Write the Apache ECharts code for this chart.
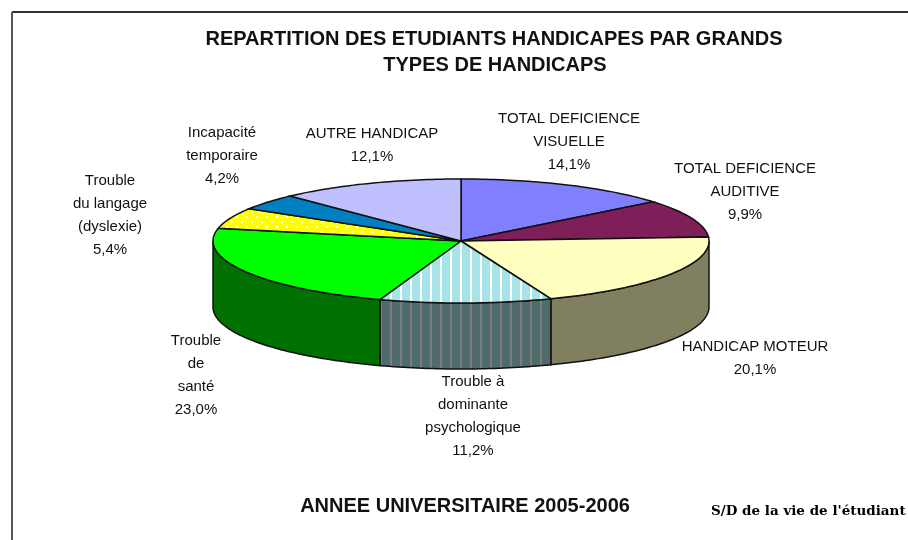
<!DOCTYPE html>
<html>
<head>
<meta charset="utf-8">
<style>html,body{margin:0;padding:0;background:#fff}#main{width:908px;height:540px}</style>
<script src="https://cdn.jsdelivr.net/npm/echarts@6/dist/echarts.min.js"></script>
</head>
<body>
<div id="main"></div>
<script>
var categories = ['TOTAL DEFICIENCE\nVISUELLE', 'TOTAL DEFICIENCE\nAUDITIVE', 'HANDICAP MOTEUR', 'Trouble à\ndominante\npsychologique', 'Trouble\nde\nsanté', 'Trouble\ndu langage\n(dyslexie)', 'Incapacité\ntemporaire', 'AUTRE HANDICAP'];
var values = [14.1, 9.9, 20.1, 11.2, 23.0, 5.4, 4.2, 12.1];
var topColors = ['#8080ff', '#7f1f5a', '#ffffc0', '#a6e4e8', '#00ff00', '#ffff00', '#0080c0', '#c0c0ff'];
var wallColors = ['#404080', '#40102d', '#808060', '#4f6b6b', '#007000', '#808000', '#004060', '#606080'];
// label centres, in page pixels
var labelX = [569, 745, 755, 473, 196, 110, 222, 372];
var labelY = [142, 192, 358, 416, 375, 215, 156, 145];

var cx = 461, cy = 241, rx = 248, ry = 62, depth = 66;
var total = values.reduce(function (a, b) { return a + b; }, 0);

function stripes(bg, fg) {
    var c = document.createElement('canvas');
    c.width = 10; c.height = 10;
    var g = c.getContext('2d');
    g.fillStyle = bg; g.fillRect(0, 0, 10, 10);
    g.fillStyle = fg; g.fillRect(0, 0, 2, 10);
    return {image: c, repeat: 'repeat'};
}
function dots(bg, fg) {
    var c = document.createElement('canvas');
    c.width = 10; c.height = 10;
    var g = c.getContext('2d');
    g.fillStyle = bg; g.fillRect(0, 0, 10, 10);
    g.fillStyle = fg; g.fillRect(1, 1, 2, 2); g.fillRect(6, 6, 2, 2);
    return {image: c, repeat: 'repeat'};
}
var topFill = topColors.slice();
var wallFill = wallColors.slice();
topFill[3] = stripes(topColors[3], '#ffffff');
wallFill[3] = stripes(wallColors[3], '#7d7d7d');
topFill[5] = dots(topColors[5], '#ffffff');

function pt(a, dy) {
    return [cx + rx * Math.sin(a), cy - ry * Math.cos(a) + (dy || 0)];
}
function arcPts(a0, a1, dy) {
    var out = [], n = Math.max(2, Math.ceil((a1 - a0) / 0.02));
    for (var i = 0; i <= n; i++) {
        out.push(pt(a0 + (a1 - a0) * i / n, dy));
    }
    return out;
}

function renderSlice(params, api) {
    var i = params.dataIndex;
    var before = 0;
    for (var k = 0; k < i; k++) before += values[k];
    var a0 = before / total * Math.PI * 2;
    var a1 = (before + api.value(0)) / total * Math.PI * 2;
    var kids = [];

    // front wall: only the part of the rim between 3 and 9 o'clock shows
    var w0 = Math.max(a0, Math.PI / 2), w1 = Math.min(a1, Math.PI * 1.5);
    if (w1 > w0) {
        kids.push({
            type: 'polygon',
            shape: {points: arcPts(w0, w1, 0).concat(arcPts(w0, w1, depth).reverse())},
            style: {fill: wallFill[i], stroke: '#111', lineWidth: 1.5}
        });
    }
    kids.push({
        type: 'polygon',
        shape: {points: [[cx, cy]].concat(arcPts(a0, a1, 0))},
        style: {fill: topFill[i], stroke: '#111', lineWidth: 1.5}
    });
    kids.push({
        type: 'text',
        x: labelX[i],
        y: labelY[i],
        style: {
            text: categories[i] + '\n' + api.value(0).toFixed(1).replace('.', ',') + '%',
            fill: '#111',
            font: '15px "Liberation Sans"',
            align: 'center',
            verticalAlign: 'middle',
            lineHeight: 23
        }
    });
    return {type: 'group', children: kids};
}

var myChart = echarts.init(document.getElementById('main'), null, {renderer: 'canvas'});
myChart.setOption({
    animation: false,
    backgroundColor: '#fff',
    title: [
        {text: 'REPARTITION DES ETUDIANTS HANDICAPES PAR GRANDS', left: 489, top: 24, textAlign: 'center',
            textStyle: {fontFamily: 'Liberation Sans', fontWeight: 'bold', fontSize: 20, color: '#111'}},
        {text: 'TYPES DE HANDICAPS', left: 490, top: 50, textAlign: 'center',
            textStyle: {fontFamily: 'Liberation Sans', fontWeight: 'bold', fontSize: 20, color: '#111'}},
        {text: 'ANNEE UNIVERSITAIRE 2005-2006', left: 460, top: 491, textAlign: 'center',
            textStyle: {fontFamily: 'Liberation Sans', fontWeight: 'bold', fontSize: 20, color: '#111'}},
        {text: "S/D de la vie de l'étudiant", left: 706, top: 499,
            textStyle: {fontFamily: 'DejaVu Serif', fontWeight: 'bold', fontSize: 13.5, color: '#000'}}
    ],
    graphic: [
        {type: 'line', shape: {x1: 12, y1: 12, x2: 908, y2: 12}, style: {stroke: '#333', lineWidth: 2}},
        {type: 'line', shape: {x1: 12, y1: 12, x2: 12, y2: 540}, style: {stroke: '#555', lineWidth: 2}}
    ],
    series: [{
        type: 'custom',
        coordinateSystem: 'none',
        renderItem: renderSlice,
        data: values.map(function (v) { return [v]; })
    }]
});
</script>
</body>
</html>
